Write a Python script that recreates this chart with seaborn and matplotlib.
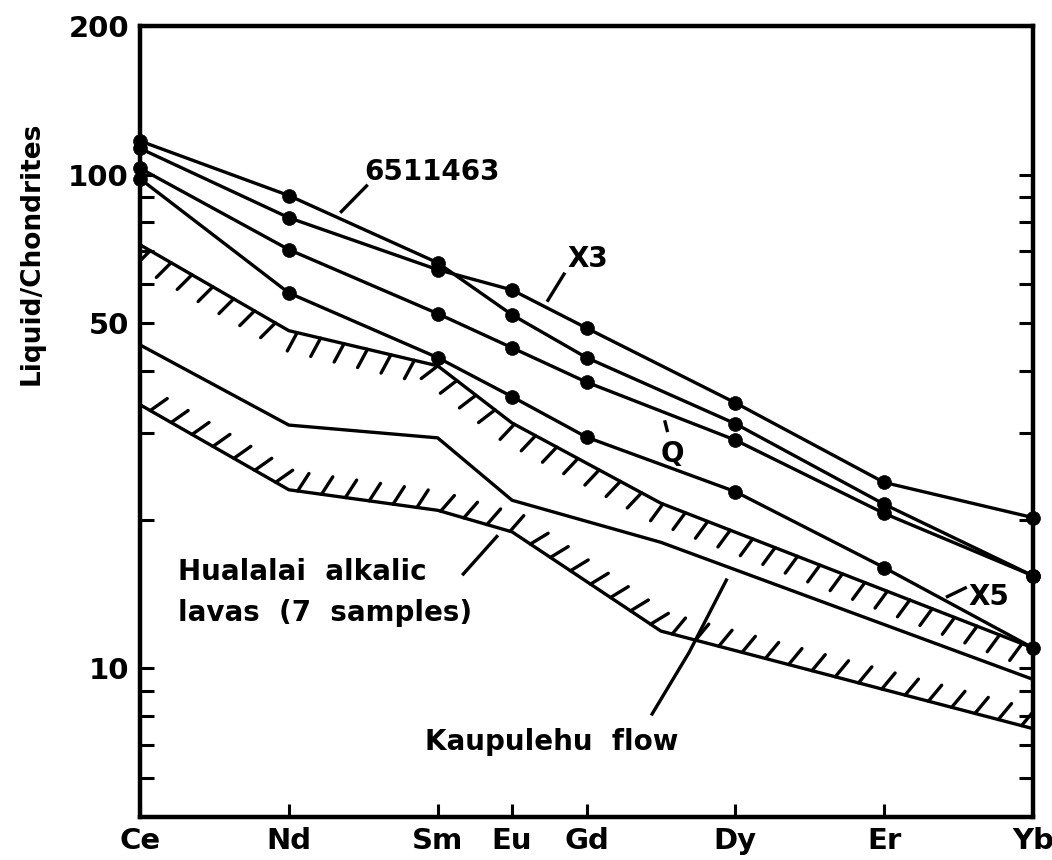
import matplotlib
matplotlib.use("Agg")
import matplotlib.pyplot as plt
import matplotlib.patheffects as pe
from matplotlib.ticker import NullFormatter
import seaborn as sns

# ---------------- data ----------------
ELEMENTS = ["Ce", "Nd", "Sm", "Eu", "Gd", "Dy", "Er", "Yb"]
Z_ELEMENTS = [58, 60, 62, 63, 64, 66, 68, 70]        # atomic numbers -> x position
Z_BAND = [58, 60, 62, 63, 65, 70]                    # Ce Nd Sm Eu Tb Yb (lava data)

S_6511463 = [117.0, 90.7, 66.3, 52.0, 42.6, 31.3, 21.5, 15.4]
S_X3 = [113.0, 81.8, 64.2, 58.4, 48.9, 34.5, 23.8, 20.2]
S_Q = [103.0, 70.5, 52.3, 44.6, 38.0, 29.0, 20.6, 15.4]
S_X5 = [98.1, 57.6, 42.6, 35.5, 29.4, 22.8, 16.0, 11.0]

HUALALAI_UPPER = [72.1, 48.3, 41.0, 31.4, 21.6, 11.0]
HUALALAI_LOWER = [34.2, 23.0, 20.9, 18.9, 11.9, 7.55]
KAUPULEHU = [45.2, 31.1, 29.3, 21.9, 18.0, 9.5]

Y_MAJOR = [10, 50, 100, 200]
Y_MAJOR_LABELS = ["10", "50", "100", "200"]
Y_MINOR = [6, 7, 8, 9, 20, 30, 40, 60, 70, 80, 90]

# ---------------- style ----------------
sns.set_style("white")
plt.rcParams["font.family"] = ["DejaVu Sans"]
plt.rcParams["font.weight"] = "bold"
for key in ["text.color", "axes.labelcolor", "xtick.color", "ytick.color",
            "xtick.labelcolor", "ytick.labelcolor", "axes.edgecolor"]:
    plt.rcParams[key] = "black"

fig = plt.figure(figsize=(10.52, 8.6), dpi=100)
ax = fig.add_axes([140 / 1052, 43 / 860, 893 / 1052, 791 / 860])
ax.set_yscale("log")

LW = 2.4

# sample liquids (with dots)
for vals in [S_6511463, S_X3, S_Q, S_X5]:
    sns.lineplot(x=Z_ELEMENTS, y=vals, ax=ax, color="black", linewidth=LW,
                 marker="o", markersize=10, markeredgecolor="black",
                 markeredgewidth=0.5, estimator=None, sort=False,
                 clip_on=False, zorder=4)

# Hualalai band boundaries (hatched) and Kaupulehu flow
sns.lineplot(x=Z_BAND, y=HUALALAI_UPPER, ax=ax, color="black", linewidth=LW,
             estimator=None, sort=False, zorder=3)
ax.lines[-1].set_path_effects([pe.withTickedStroke(angle=-105, spacing=17, length=0.88)])

sns.lineplot(x=Z_BAND, y=HUALALAI_LOWER, ax=ax, color="black", linewidth=LW,
             estimator=None, sort=False, zorder=3)
ax.lines[-1].set_path_effects([pe.withTickedStroke(angle=65, spacing=17, length=0.88)])

sns.lineplot(x=Z_BAND, y=KAUPULEHU, ax=ax, color="black", linewidth=LW,
             estimator=None, sort=False, zorder=3)

# ---------------- axes ----------------
ax.set_xlim(58, 70)
ax.set_ylim(5, 200)
ax.set_xticks(Z_ELEMENTS, ELEMENTS)
ax.set_yticks(Y_MAJOR, Y_MAJOR_LABELS)
ax.set_yticks(Y_MINOR, minor=True)
ax.yaxis.set_minor_formatter(NullFormatter())

ax.tick_params(axis="y", which="both", direction="in", left=True, right=True,
               length=10, width=2.2, labelsize=21, pad=8,
               color="black", labelcolor="black")
ax.tick_params(axis="x", which="major", direction="in", bottom=True, top=False,
               length=9.5, width=2.2, labelsize=21, pad=7,
               color="black", labelcolor="black")
ax.tick_params(axis="x", which="minor", bottom=False, top=False)

for s in ax.spines.values():
    s.set_visible(True)
    s.set_linewidth(3.2)
    s.set_color("black")

ax.set_xlabel("")
ax.set_ylabel("Liquid/Chondrites", fontsize=19, fontweight="bold", color="black")
ax.yaxis.set_label_coords(-0.107, 0.712)

# ---------------- annotations ----------------
TXT = dict(fontsize=20, fontweight="bold", ha="left", va="baseline", color="black")
ax.text(61.02, 97.7, "6511463", **TXT)
ax.text(63.74, 65.1, "X3", **TXT)
ax.text(64.99, 26.2, "Q", **TXT)
ax.text(69.13, 13.42, "X5", **TXT)
ax.text(58.51, 15.09, "Hualalai  alkalic", **TXT)
ax.text(58.51, 12.45, "lavas  (7  samples)", **TXT)
ax.text(61.83, 6.82, "Kaupulehu  flow", **TXT)

PTR = dict(color="black", linewidth=LW, solid_capstyle="butt", zorder=5)
ax.plot([60.69, 61.06], [83.7, 95.4], **PTR)
ax.plot([63.47, 63.71], [55.3, 63.3], **PTR)
ax.plot([65.05, 65.09], [31.8, 30.1], **PTR)
ax.plot([68.83, 69.11], [13.93, 14.6], **PTR)
ax.plot([62.33, 62.81], [15.44, 18.6], **PTR)
ax.plot([64.87, 65.38, 65.89], [8.03, 10.78, 15.2], **PTR)

fig.savefig("out.png", dpi=100, facecolor="white")
